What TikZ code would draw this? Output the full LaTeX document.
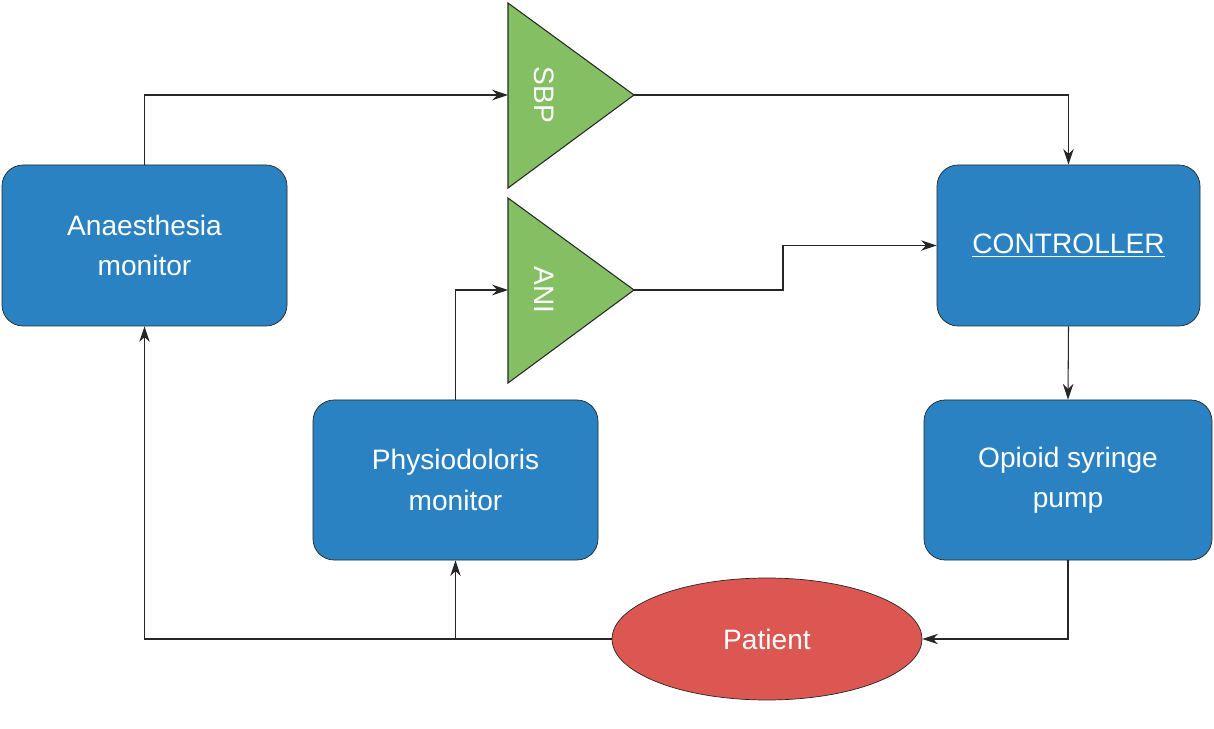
\documentclass[tikz,border=0pt]{standalone}
\usepackage{fontspec}
\setmainfont{Liberation Sans}
\usetikzlibrary{shapes.geometric}
\usetikzlibrary{positioning}
\usetikzlibrary{calc}
\usetikzlibrary{arrows.meta}
\definecolor{boxblue}{HTML}{2A82C2}
\definecolor{ampgreen}{HTML}{84C063}
\definecolor{patred}{HTML}{DD5752}
\tikzset{
    % Line and arrow look
    >={Stealth[length=9pt,width=6pt]},
    link/.style={draw=black!85, line width=0.6pt, ->},
%
    % Rounded blue blocks
    block/.style={
        draw=black!85, fill=boxblue, rounded corners=12pt, text=white,
        align=center, font=\fontsize{16}{23}\selectfont},
%
    % Green amplifier triangles
    amp/.style={draw=black!85, fill=ampgreen, line width=0.6pt},
    amp label/.style={text=white, rotate=-90, font=\fontsize{16}{19}\selectfont}}

\begin{document}
\begin{tikzpicture}[x=0.02cm, y=-0.02cm]

\path [use as bounding box] (0,0) rectangle (1214,729);

% Blocks
\node [block, minimum width=285*0.02cm, minimum height=161*0.02cm]
    (anaes) at (144.5,245.5) {Anaesthesia\\monitor};
\node [block, minimum width=285*0.02cm, minimum height=160*0.02cm]
    (physio) at (455.5,480) {Physiodoloris\\monitor};
\node [block, minimum width=263*0.02cm, minimum height=161*0.02cm]
    (ctrl) at (1068.5,245.5) {\underline{CONTROLLER}};
\node [block, minimum width=288*0.02cm, minimum height=160*0.02cm]
    (pump) at (1068,480) {Opioid syringe\\pump};
\node [ellipse, draw=black!85, fill=patred, text=white,
    minimum width=310*0.02cm, minimum height=122*0.02cm,
    font=\fontsize{16}{19}\selectfont]
    (patient) at (767,639) {Patient};

% Amplifiers
\draw [amp] (508,3) -- (634,95) -- (508,188) -- cycle;
\coordinate (sbp in) at (508,95);
\coordinate (sbp out) at (634,95);
\node [amp label] (sbp) at (544,95) {SBP};
\draw [amp] (508,198) -- (634,290) -- (508,383) -- cycle;
\coordinate (ani in) at (508,290);
\coordinate (ani out) at (634,290);
\node [amp label] (ani) at (544,290) {ANI};

% Connections
\draw [link] (anaes.north) |- (sbp in);
\draw [link] (sbp out) -| (ctrl.north);
\draw [link] (ani out) -- (783,290) |- (ctrl.west);
\draw [link] (physio.north) |- (ani in);
\draw [link] (ctrl.south) -- (pump.north);
\draw [link] (pump.south) |- (patient.east);
\draw [link] (patient.west) -| (anaes.south);
\draw [link] (physio.south |- patient.west) -- (physio.south);

\end{tikzpicture}
\end{document}
